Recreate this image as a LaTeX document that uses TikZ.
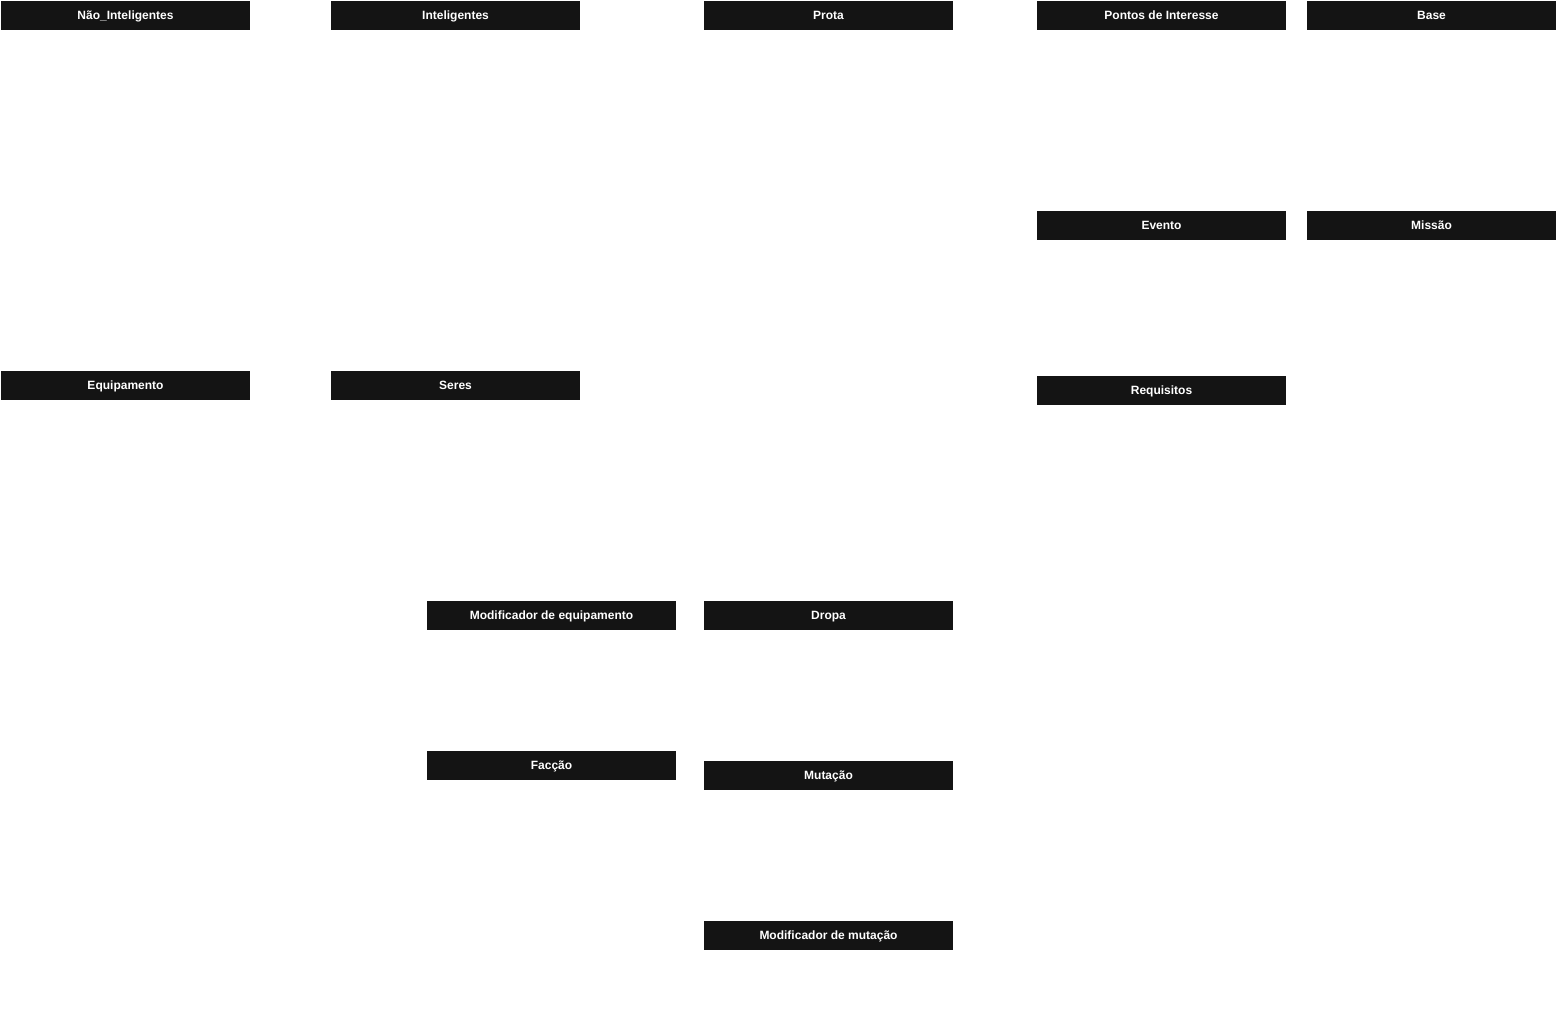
\documentclass[tikz,border=0pt]{standalone}
\usepackage{fontspec}
\setmainfont{Liberation Sans}
\usepackage{tikz}
\usetikzlibrary{positioning}

\definecolor{cabeca}{HTML}{141414}

\begin{document}
\begin{tikzpicture}[x=1pt, y=-1pt, tabela/.style={fill=cabeca, text=white, font=\fontsize{12}{14}\selectfont\bfseries, minimum width=249pt, minimum height=29pt, inner sep=0pt, text height=8.6pt, text depth=0pt, text centered}]

\useasboundingbox (0,0) rectangle (1558,1022);

%nodes
\node [tabela] at (125.5,15.5)(naoint){Não\_Inteligentes};
\node [tabela] at (455.5,15.5)(intel){Inteligentes};
\node [tabela] at (828.5,15.5)(prota){Prota};
\node [tabela] at (1161.5,15.5)(pontos){Pontos de Interesse};
\node [tabela] at (1431.5,15.5)(base){Base};

\node [tabela] at (1161.5,225.5)(evento){Evento};
\node [tabela] at (1431.5,225.5)(missao){Missão};

\node [tabela] at (125.5,385.5)(equip){Equipamento};
\node [tabela] at (455.5,385.5)(seres){Seres};
\node [tabela] at (1161.5,390.5)(requisitos){Requisitos};

\node [tabela] at (551.5,615.5)(modequip){Modificador de equipamento};
\node [tabela] at (828.5,615.5)(dropa){Dropa};
\node [tabela] at (551.5,765.5)(faccao){Facção};
\node [tabela] at (828.5,775.5)(mutacao){Mutação};
\node [tabela] at (828.5,935.5)(modmut){Modificador de mutação};

\end{tikzpicture}
\end{document}
